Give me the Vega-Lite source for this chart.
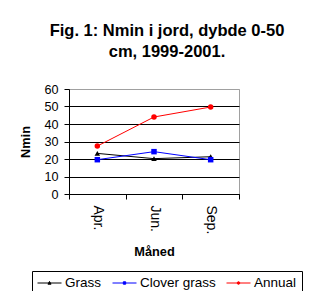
{
  "$schema": "https://vega.github.io/schema/vega-lite/v6.json",
  "width": 170,
  "height": 105,
  "autosize": {"type": "none"},
  "padding": {"left": 69, "top": 89, "right": 87, "bottom": 97},
  "background": "white",
  "title": {
    "text": ["Fig. 1: Nmin i jord, dybde 0-50", "cm, 1999-2001."],
    "font": "Liberation Sans",
    "fontSize": 16.5,
    "fontWeight": "bold",
    "color": "black",
    "anchor": "middle",
    "dx": 13,
    "lineHeight": 21,
    "offset": 23
  },
  "data": {
    "values": [
      {"month": "Apr.", "type": "Grass", "nmin": 23.2},
      {"month": "Jun.", "type": "Grass", "nmin": 20.2},
      {"month": "Sep.", "type": "Grass", "nmin": 21.3},
      {"month": "Apr.", "type": "Clover grass", "nmin": 19.6},
      {"month": "Jun.", "type": "Clover grass", "nmin": 24.2},
      {"month": "Sep.", "type": "Clover grass", "nmin": 19.6},
      {"month": "Apr.", "type": "Annual", "nmin": 27.4},
      {"month": "Jun.", "type": "Annual", "nmin": 44},
      {"month": "Sep.", "type": "Annual", "nmin": 49.7}
    ]
  },
  "encoding": {
    "x": {
      "field": "month",
      "type": "ordinal",
      "sort": ["Apr.", "Jun.", "Sep."],
      "bandPosition": 0.5,
      "scale": {"type": "band", "paddingInner": 0, "paddingOuter": 0},
      "axis": {
        "title": "Måned",
        "labelAngle": 90,
        "labelAlign": "left",
        "labelBaseline": "middle",
        "tickBand": "extent",
        "grid": false,
        "labelFontSize": 14,
        "labelPadding": 6,
        "titlePadding": 12
      }
    },
    "y": {
      "field": "nmin",
      "type": "quantitative",
      "scale": {"domain": [0, 60], "nice": false},
      "axis": {
        "title": "Nmin",
        "values": [0, 10, 20, 30, 40, 50, 60],
        "grid": true,
        "gridColor": {"condition": {"test": "datum.value === 60", "value": "#a0a0a0"}, "value": "black"},
        "labelFontSize": 12.6,
        "labelPadding": 6,
        "titlePadding": 11
      }
    },
    "color": {
      "field": "type",
      "type": "nominal",
      "scale": {"domain": ["Grass", "Clover grass", "Annual"], "range": ["black", "#0000ff", "#ff0000"]},
      "legend": {
        "orient": "none",
        "legendX": -37,
        "legendY": 182,
        "direction": "horizontal",
        "title": null,
        "strokeColor": "black",
        "fillColor": "white",
        "padding": 5,
        "clipHeight": 14,
        "symbolSize": 576,
        "symbolStrokeWidth": 1,
        "symbolOpacity": 1,
        "labelFontSize": 13.5,
        "labelOffset": 3,
        "columnPadding": 10,
        "labelColor": "black",
        "labelFont": "Liberation Sans",
        "encode": {
          "symbols": {
            "update": {
              "shape": {"signal": "datum.value === 'Grass' ? 'M-1,0H1M0,-0.13L0.13,0.1L-0.13,0.1Z' : datum.value === 'Clover grass' ? 'M-1,0H1M-0.1,-0.1H0.1V0.1H-0.1Z' : 'M-1,0H1M0.11,0A0.11,0.11 0 1,1 -0.11,0A0.11,0.11 0 1,1 0.11,0Z'"},
              "fill": {"signal": "scale('color', datum.value)"},
              "stroke": {"signal": "scale('color', datum.value)"}
            }
          }
        }
      }
    }
  },
  "layer": [
    {"mark": {"type": "line", "strokeWidth": 1}},
    {
      "mark": {"type": "point", "filled": true, "size": 30, "opacity": 1},
      "encoding": {
        "shape": {
          "condition": [
            {"test": "datum.type === 'Grass'", "value": "triangle-up"},
            {"test": "datum.type === 'Clover grass'", "value": "square"}
          ],
          "value": "circle"
        }
      }
    }
  ],
  "config": {
    "font": "Liberation Sans",
    "view": {"stroke": "#a0a0a0", "strokeWidth": 1},
    "axis": {
      "domainColor": "black",
      "tickColor": "black",
      "tickSize": 5,
      "labelColor": "black",
      "titleColor": "black",
      "titleFontSize": 12.8,
      "titleFontWeight": "bold",
      "labelFont": "Liberation Sans",
      "titleFont": "Liberation Sans",
      "gridWidth": 1
    }
  }
}
